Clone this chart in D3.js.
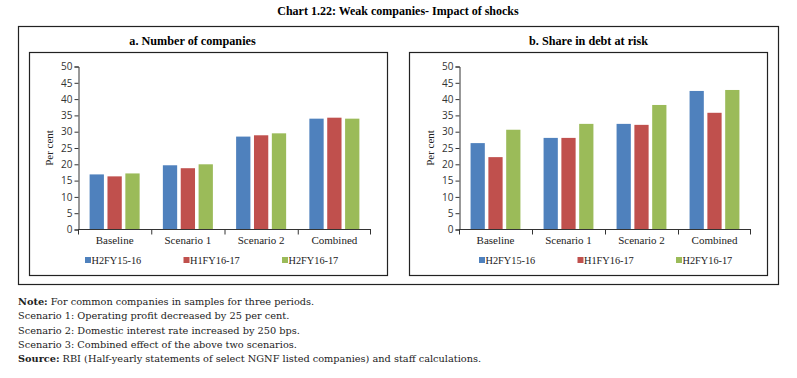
<!DOCTYPE html>
<html>
<head>
<meta charset="utf-8">
<script src="https://cdn.jsdelivr.net/npm/d3@7"></script>
<style>
  body { margin: 0; background: #fff; }
  svg { display: block; }
</style>
</head>
<body>
<svg id="chart" width="797" height="378"></svg>
<script>
// the data
const categories = ["Baseline", "Scenario 1", "Scenario 2", "Combined"];
const seriesNames = ["H2FY15-16", "H1FY16-17", "H2FY16-17"];
const colors = ["#4f81bd", "#c0504d", "#9bbb59"];
const yTicks = [0, 5, 10, 15, 20, 25, 30, 35, 40, 45, 50];

// a. number of companies (per cent), one array per period
const companies = [
  [16.9, 19.7, 28.5, 34.0],
  [16.3, 18.8, 28.9, 34.3],
  [17.2, 20.0, 29.5, 34.0]
];
// b. share in debt at risk (per cent)
const debtShare = [
  [26.5, 28.1, 32.4, 42.5],
  [22.2, 28.1, 32.1, 35.8],
  [30.6, 32.4, 38.2, 42.8]
];

const notes = [
  ["Note:", " For common companies in samples for three periods."],
  ["", "Scenario 1: Operating profit decreased by 25 per cent."],
  ["", "Scenario 2: Domestic interest rate increased by 250 bps."],
  ["", "Scenario 3: Combined effect of the above two scenarios."],
  ["Source:", " RBI (Half-yearly statements of select NGNF listed companies) and staff calculations."]
];

const serif = "'Liberation Serif', 'DejaVu Serif', serif";
const sans = "'Open Sans', 'DejaVu Sans', sans-serif";

let svg = d3.select("#chart");

// main title
svg.append("text")
    .attr("x", 398).attr("y", 15)
    .attr("text-anchor", "middle")
    .attr("font-family", serif).attr("font-weight", "bold").attr("font-size", 12)
    .text("Chart 1.22: Weak companies- Impact of shocks");

// outer frame
svg.append("rect")
    .attr("x", 18.5).attr("y", 26.5).attr("width", 760).attr("height", 258)
    .attr("fill", "none").attr("stroke", "#222").attr("stroke-width", 1.2);

function drawPanel(opts) {
    let g = svg.append("g");

    // inner frame
    g.append("rect")
        .attr("x", opts.box[0] + 0.5).attr("y", 52.5)
        .attr("width", opts.box[1] - opts.box[0]).attr("height", 223)
        .attr("fill", "none").attr("stroke", "#222").attr("stroke-width", 1.2);

    g.append("text")
        .attr("x", opts.titleX).attr("y", 45)
        .attr("text-anchor", "middle")
        .attr("font-family", serif).attr("font-weight", "bold").attr("font-size", 12.2)
        .text(opts.title);

    let x = d3.scaleBand()
        .domain(categories)
        .range([opts.x0, opts.x1])
        .paddingInner(0).paddingOuter(0);

    let xs = d3.scaleBand()
        .domain(d3.range(seriesNames.length))
        .range([0, x.bandwidth()])
        .paddingInner(0.2).paddingOuter(0.65);

    let y = d3.scaleLinear().domain([0, 50]).range([229.5, 66.5]);

    // bars
    opts.data.forEach(function (vals, si) {
        g.append("g")
            .selectAll("rect")
            .data(vals)
            .enter()
            .append("rect")
            .attr("x", (d, i) => x(categories[i]) + xs(si))
            .attr("y", d => y(d))
            .attr("width", xs.bandwidth())
            .attr("height", d => y(0) - y(d))
            .attr("fill", colors[si]);
    });

    // y axis
    let yAxis = g.append("g")
        .attr("transform", "translate(" + (opts.x0 + 0.5) + ",0)")
        .call(d3.axisLeft(y).tickValues(yTicks).tickSize(4).tickPadding(2));
    yAxis.select(".domain").attr("stroke", "#333");
    yAxis.selectAll(".tick line").attr("stroke", "#333");
    yAxis.selectAll("text")
        .attr("font-family", sans).attr("font-size", 10).attr("fill", "#333");

    // x axis with separators between categories
    let xAxis = g.append("g")
        .attr("transform", "translate(0," + y(0) + ")");
    xAxis.append("line")
        .attr("x1", opts.x0).attr("x2", opts.x1)
        .attr("stroke", "#333");
    xAxis.selectAll("line.sep")
        .data(categories.concat(["end"]))
        .enter()
        .append("line")
        .attr("class", "sep")
        .attr("x1", (d, i) => i < categories.length ? x(d) + 0.5 : opts.x1 - 0.5)
        .attr("x2", (d, i) => i < categories.length ? x(d) + 0.5 : opts.x1 - 0.5)
        .attr("y1", 0).attr("y2", 5)
        .attr("stroke", "#333");
    xAxis.selectAll("text")
        .data(categories)
        .enter()
        .append("text")
        .attr("x", d => x(d) + x.bandwidth() / 2)
        .attr("y", 14)
        .attr("text-anchor", "middle")
        .attr("font-family", serif).attr("font-size", 11).attr("fill", "#222")
        .text(d => d);

    // y label
    g.append("text")
        .attr("transform", "translate(" + (opts.x0 - 25) + "," + 148 + ") rotate(-90)")
        .attr("text-anchor", "middle")
        .attr("font-family", serif).attr("font-size", 11).attr("fill", "#222")
        .text("Per cent");

    // legend
    let leg = g.selectAll("g.leg")
        .data(seriesNames)
        .enter()
        .append("g")
        .attr("class", "leg")
        .attr("transform", (d, i) => "translate(" + (opts.legX + i * 98.5) + ",260)");
    leg.append("rect")
        .attr("x", 0).attr("y", -3).attr("width", 6).attr("height", 6)
        .attr("fill", (d, i) => colors[i]);
    leg.append("text")
        .attr("x", 6.5).attr("y", 3.8)
        .attr("font-family", serif).attr("font-size", 10.3).attr("fill", "#222")
        .text(d => d);
}

drawPanel({ title: "a. Number of companies", titleX: 192.5, box: [29, 387], x0: 78, x1: 371, data: companies, legX: 85 });
drawPanel({ title: "b. Share in debt at risk", titleX: 588.5, box: [409, 767], x0: 459, x1: 751, data: debtShare, legX: 479 });

// notes below
let nt = svg.append("g")
    .attr("font-family", "'DejaVu Serif', serif").attr("font-size", 9.75).attr("fill", "#222");
notes.forEach(function (n, i) {
    let t = nt.append("text").attr("x", 18).attr("y", 305 + i * 14.3);
    if (n[0]) t.append("tspan").attr("font-weight", "bold").text(n[0]);
    t.append("tspan").text(n[1]);
});
</script>
</body>
</html>
